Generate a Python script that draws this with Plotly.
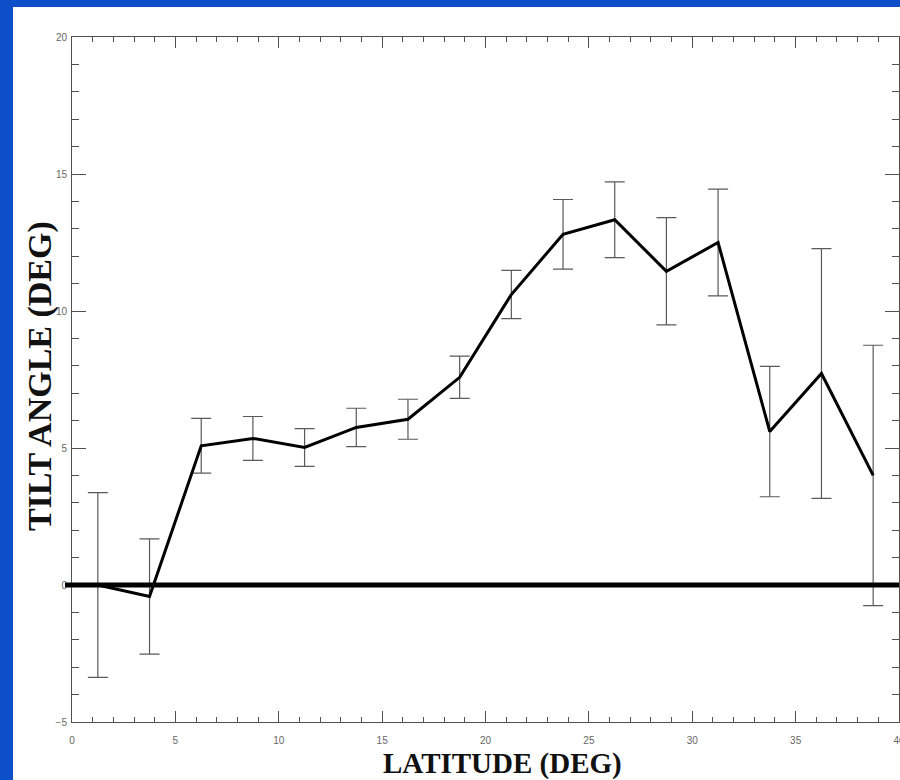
"""
Tilt angle vs latitude
Line with error bars, IDL-style framed axes on a blue slide border
"""

import plotly.graph_objects as go

# Data
LATITUDE = [1.25, 3.75, 6.25, 8.75, 11.25, 13.75, 16.25, 18.75,
            21.25, 23.75, 26.25, 28.75, 31.25, 33.75, 36.25, 38.75]
TILT = [0.0, -0.42, 5.08, 5.35, 5.02, 5.75, 6.05, 7.58,
        10.6, 12.8, 13.33, 11.45, 12.5, 5.6, 7.72, 4.0]
TILT_ERR = [3.37, 2.1, 1.0, 0.8, 0.69, 0.7, 0.73, 0.77,
            0.88, 1.27, 1.38, 1.96, 1.95, 2.38, 4.56, 4.75]

X_TICKS = [0, 5, 10, 15, 20, 25, 30, 35, 40]
Y_TICKS = [-5, 0, 5, 10, 15, 20]

# Styling
BLUE = '#0d4fc8'
AXIS_COLOR = '#505050'
ERR_COLOR = '#5a5a5a'
TITLE_FONT = dict(family='Liberation Serif, Times New Roman, serif', size=29, color='#111111')
TICK_FONT = dict(family='Liberation Sans, Arial, sans-serif', size=10, color='#666666')

# page has a default 8px body margin, drop it so the figure fills the window
PAGE_FIX = "document.body.style.margin='0';document.body.style.overflow='hidden';"


def build_figure():
    fig = go.Figure()

    fig.add_trace(go.Scatter(
        x=LATITUDE,
        y=TILT,
        mode='lines',
        line=dict(color='black', width=3),
        error_y=dict(type='data', array=TILT_ERR, visible=True,
                     color=ERR_COLOR, thickness=1.2, width=10),
        showlegend=False
    ))

    # white slide panel over the blue background
    fig.add_shape(type='rect', xref='paper', yref='paper',
                  x0=-0.0713, x1=1.02, y0=-0.1, y1=1.0438,
                  fillcolor='white', line_width=0, layer='below')

    # thick zero reference line
    fig.add_shape(type='line', xref='paper', yref='y',
                  x0=-0.0085, x1=1.0, y0=0, y1=0,
                  line=dict(color='black', width=5), layer='above')

    axis_common = dict(
        showline=True, linecolor=AXIS_COLOR, linewidth=1,
        mirror='allticks', ticks='inside', tickcolor=AXIS_COLOR,
        showgrid=False, zeroline=False, tickfont=TICK_FONT,
        ticklabeloverflow='allow', automargin=False
    )

    fig.update_layout(
        width=900, height=780,
        margin=dict(l=72, r=1, t=37, b=58),
        paper_bgcolor=BLUE,
        plot_bgcolor='white',
        xaxis=dict(range=[0, 40], tickvals=X_TICKS, ticklen=11,
                   ticklabelstandoff=9,
                   minor=dict(ticks='inside', dtick=1, ticklen=5, tickcolor=AXIS_COLOR),
                   **axis_common),
        yaxis=dict(range=[-5, 20], tickvals=Y_TICKS, ticklen=14,
                   ticklabelstandoff=2,
                   minor=dict(ticks='inside', dtick=1, ticklen=7, tickcolor=AXIS_COLOR),
                   **axis_common),
        annotations=[
            dict(text='<b>LATITUDE (DEG)</b>', xref='paper', yref='paper',
                 x=0.52, y=-0.034, xanchor='center', yanchor='top',
                 showarrow=False, font=TITLE_FONT),
            dict(text='<b>TILT ANGLE (DEG)</b>', xref='paper', yref='paper',
                 x=-0.0387, y=0.505, xanchor='center', yanchor='middle',
                 textangle=-90, showarrow=False,
                 font=dict(TITLE_FONT, size=34)),
        ]
    )

    return fig


def main():
    fig = build_figure()
    fig.write_html('out.html', post_script=PAGE_FIX,
                   config={'displayModeBar': False})
    print('[OK] Saved: out.html')


if __name__ == '__main__':
    main()
